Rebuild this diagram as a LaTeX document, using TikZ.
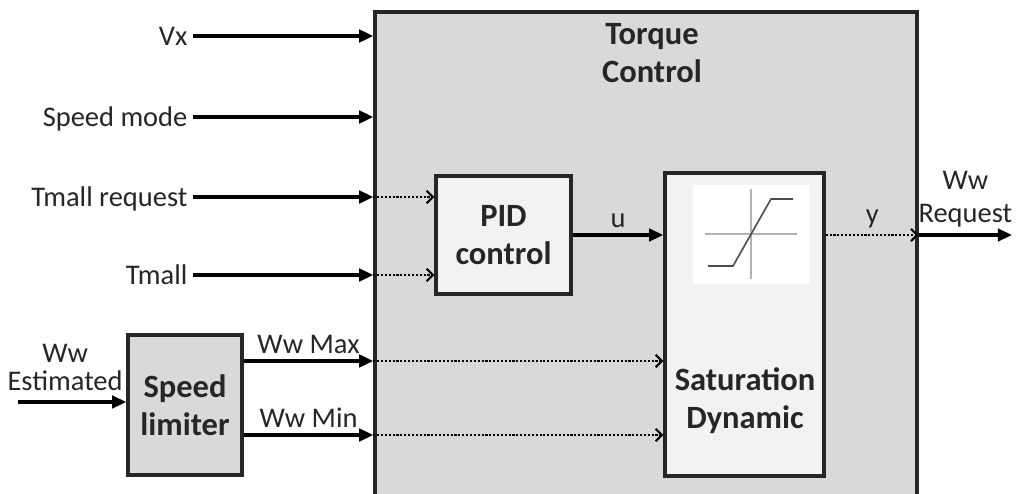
\documentclass[tikz,border=0pt]{standalone}
\usepackage{fontspec}
\setmainfont{Carlito}
\usetikzlibrary{arrows.meta,positioning}

\begin{document}
\begin{tikzpicture}[x=0.02cm, y=-0.02cm,
  every node/.style={text=black!85, font=\fontsize{16.2}{19}\selectfont},
  block/.style={draw=black!85, line width=2pt},
  title/.style={font=\fontsize{18.5}{21.5}\selectfont\bfseries, align=center},
  inlabel/.style={anchor=east, inner sep=3pt, text height=10.5pt, text depth=0pt},
  sig/.style={line width=2.2pt, -{Triangle[length=8pt,width=7pt]}},
  dots/.style={line width=1.2pt, densely dotted, -{Straight Barb[length=3.5pt,width=7pt]}}]
\useasboundingbox (0,0) rectangle (1019,494);
% torque control block
\node[block, fill=black!15, minimum width=10.84cm, minimum height=10.4cm] (torque) at (646,272) {};
\node[title] (ttitle) at (652,53) {Torque\\Control};
\node[block, fill=black!5, minimum width=2.7cm, minimum height=2.36cm, title] (pid) at (503.5,235) {PID\\control};
\node[block, fill=black!5, minimum width=3.18cm, minimum height=6.06cm] (sat) at (744.5,324.5) {};
\node[title] (satlbl) at (745,401) {Saturation\\Dynamic};
% saturation icon
\fill[white] (693,185) rectangle (810,284);
\draw[black!30, line width=0.6pt] (705,234) -- (797,234) (751,189) -- (751,279);
\draw[black!70, line width=0.9pt] (708,266) -- (733,266) -- (771,199) -- (793,199);
% speed limiter
\node[block, fill=black!15, minimum width=2.28cm, minimum height=2.8cm, title] (limiter) at (185,405) {Speed\\limiter};
% inputs
\foreach \y/\name/\txt in {36/vx/Vx, 117/mode/Speed mode, 197/treq/Tmall request, 275/tmall/Tmall}{
  \node[inlabel] (\name) at (193,\y) {\txt};
  \draw[sig] (\name.east) -- (\name.east -| torque.west);
}
\draw[dots] (treq -| torque.west) -- (treq -| pid.west);
\draw[dots] (tmall -| torque.west) -- (tmall -| pid.west);
% speed limits
\coordinate (wwest) at (18,402);
\draw[sig] (wwest) -- node[above, align=center, xshift=-4pt, yshift=2pt, font=\fontsize{16.2}{16}\selectfont] (estlbl) {Ww\\Estimated} (wwest -| limiter.west);
\path (limiter.east) ++(0,-44) coordinate (wmax) (limiter.east) ++(0,30) coordinate (wmin);
\draw[sig] (wmax) -- node[above] (maxlbl) {Ww Max} (wmax -| torque.west);
\draw[sig] (wmin) -- node[above] (minlbl) {Ww Min} (wmin -| torque.west);
\draw[dots] (wmax -| torque.west) -- (wmax -| sat.west);
\draw[dots] (wmin -| torque.west) -- (wmin -| sat.west);
% outputs
\draw[sig] (pid.east) -- node[above] (ulbl) {u} (pid.east -| sat.west);
\draw[dots] (pid.east -| sat.east) -- node[above] (ylbl) {y} (pid.east -| torque.east);
\coordinate (wreq) at (1012,235);
\draw[sig] (pid.east -| torque.east) -- node[above, align=center] (reqlbl) {Ww\\Request} (wreq);
\end{tikzpicture}
\end{document}
